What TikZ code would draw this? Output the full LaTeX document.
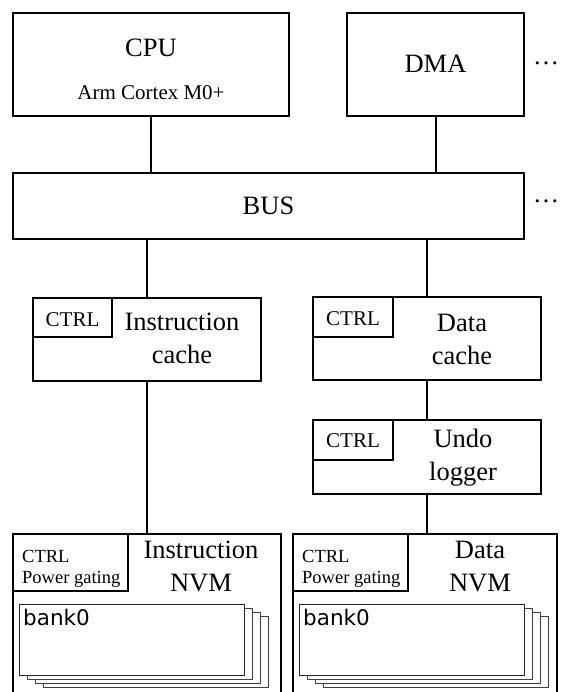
\documentclass[tikz,border=0pt]{standalone}
\usepackage{fontspec}
\setmainfont{Liberation Serif}
\newfontfamily\banksf{DejaVu Sans}
\begin{document}
\begin{tikzpicture}[x=1pt,y=-1pt,
  box/.style={draw=black, line width=2pt, fill=white, anchor=north west, inner sep=0pt, outer sep=0pt},
  outerbox/.style={draw=black, line width=1.6pt, fill=white, anchor=north west, inner sep=0pt, outer sep=0pt},
  link/.style={draw=black, line width=2pt},
  big/.style={font=\fontsize{26.5}{30}\selectfont, inner sep=0pt, anchor=base},
  mid/.style={font=\fontsize{21}{24}\selectfont, inner sep=0pt, anchor=base},
  small/.style={font=\fontsize{18.5}{21}\selectfont, inner sep=0pt, anchor=base west},
  banktxt/.style={font=\banksf\fontsize{21.5}{24}\selectfont, inner sep=0pt, anchor=base west},
  dotstxt/.style={font=\fontsize{26}{28}\selectfont, inner sep=0pt, anchor=base west},
  bankback/.style={draw=black!75, line width=1pt, fill=white},
  bankfront/.style={draw=black!85, line width=1pt, fill=white}
]
\useasboundingbox (0,0) rectangle (560,692);
\clip (0,0) rectangle (560,692);
\fill[white] (0,0) rectangle (560,692);

% top row
\node[box, minimum width=276pt, minimum height=103pt] (cpu) at (13,13) {};
\node[box, minimum width=177pt, minimum height=103pt] (dma) at (347,13) {};
\node[big] (cputxt) at (151,57) {CPU};
\node[mid] (cpusub) at (151,100) {Arm Cortex M0+};
\node[big] (dmatxt) at (435.5,73) {DMA};
\node[dotstxt] (dots1) at (533,64.5) {…};

% bus
\node[box, minimum width=511pt, minimum height=66pt] (bus) at (13,173) {};
\node[big] (bustxt) at (268.5,215) {BUS};
\node[dotstxt] (dots2) at (533,202.5) {…};

% caches
\node[box, minimum width=228pt, minimum height=83pt] (icache) at (33,298) {};
\node[box, minimum width=79pt, minimum height=39pt] (ictrl) at (33,298) {};
\node[mid] (ictrltxt) at (72.5,326) {CTRL};
\node[big] (ic1) at (182,330) {Instruction};
\node[big] (ic2) at (182,363) {cache};

\node[box, minimum width=228pt, minimum height=83pt] (dcache) at (313,297) {};
\node[box, minimum width=80pt, minimum height=40pt] (dctrl) at (313,297) {};
\node[mid] (dctrltxt) at (353,325) {CTRL};
\node[big] (dc1) at (462,331) {Data};
\node[big] (dc2) at (462,364) {cache};

% undo logger
\node[box, minimum width=228pt, minimum height=74pt] (undo) at (313,420) {};
\node[box, minimum width=80pt, minimum height=40pt] (uctrl) at (313,420) {};
\node[mid] (uctrltxt) at (353,447) {CTRL};
\node[big] (ul1) at (463,447) {Undo};
\node[big] (ul2) at (463,480) {logger};

% NVMs
\node[outerbox, minimum width=268pt, minimum height=190pt] (invm) at (13,534) {};
\node[box, minimum width=115pt, minimum height=57pt] (invmctrl) at (13,534) {};
\node[small] (in1) at (22,562) {CTRL};
\node[small] (in2) at (22,583) {Power gating};
\node[big] (inv1) at (201,558) {Instruction};
\node[big] (inv2) at (201,591) {NVM};

\node[outerbox, minimum width=264pt, minimum height=190pt] (dnvm) at (293,534) {};
\node[box, minimum width=115pt, minimum height=57pt] (dnvmctrl) at (293,534) {};
\node[small] (dn1) at (302,562) {CTRL};
\node[small] (dn2) at (302,583) {Power gating};
\node[big] (dnv1) at (480,558) {Data};
\node[big] (dnv2) at (480,591) {NVM};

% bank stacks
\foreach \bx in {19,299}{
  \foreach \k in {3,2,1}{
    \draw[bankback] ({\bx+8*\k},{604+4*\k}) rectangle ({\bx+225+8*\k},{675+4*\k});
  }
  \draw[bankfront] (\bx,604) rectangle (\bx+225,675);
}
\node[banktxt] (ibank) at (23,625) {bank0};
\node[banktxt] (dbank) at (303,625) {bank0};

% connectors
\draw[link] (cpu.south) -- (cpu.south |- bus.north);
\draw[link] (dma.south) -- (dma.south |- bus.north);
\draw[link] (icache.north |- bus.south) -- (icache.north);
\draw[link] (dcache.north |- bus.south) -- (dcache.north);
\draw[link] (icache.south) -- (icache.south |- invm.north);
\draw[link] (dcache.south) -- (undo.north);
\draw[link] (undo.south) -- (undo.south |- dnvm.north);
\end{tikzpicture}
\end{document}
